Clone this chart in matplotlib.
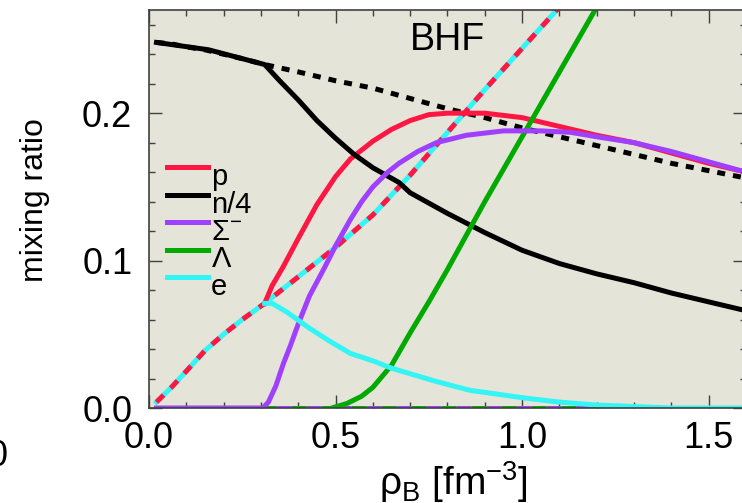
import numpy as np
import matplotlib
matplotlib.use("Agg")
import matplotlib.pyplot as plt
from matplotlib.ticker import MultipleLocator, FormatStrFormatter
from matplotlib.legend_handler import HandlerLine2D

plt.rcParams['font.family'] = ['Liberation Sans', 'DejaVu Sans']
plt.rcParams['mathtext.fontset'] = 'custom'
plt.rcParams['mathtext.rm'] = 'Liberation Sans'
plt.rcParams['mathtext.it'] = 'Liberation Sans:italic'

# --- data ---
# nucleonic matter (no hyperons): p = e, n/4
rho_nuc = [0.02, 0.06, 0.10, 0.15, 0.20, 0.25, 0.31, 0.40, 0.50, 0.60, 0.70,
           0.80, 0.90, 1.00, 1.10, 1.20, 1.30, 1.40, 1.50, 1.60]
pe_nuc = [0.004, 0.014, 0.025, 0.039, 0.050, 0.060, 0.071, 0.089, 0.109, 0.131,
          0.158, 0.187, 0.216, 0.244, 0.272, 0.300, np.nan, np.nan, np.nan, np.nan]
n4_nuc = [0.248, 0.247, 0.245, 0.243, 0.240, 0.237, 0.233, 0.228, 0.222, 0.217,
          0.210, 0.203, 0.197, 0.190, 0.184, 0.178, 0.172, 0.166, 0.161, 0.156]
zero_nuc = [0.0] * len(rho_nuc)

# hyperonic matter
rho_p = [0.31, 0.33, 0.36, 0.40, 0.45, 0.50, 0.54, 0.60, 0.65, 0.70, 0.75,
         0.80, 0.90, 1.00, 1.10, 1.20, 1.30, 1.40, 1.50, 1.60]
p_hyp = [0.071, 0.083, 0.096, 0.115, 0.138, 0.157, 0.169, 0.181, 0.189, 0.195,
         0.199, 0.200, 0.200, 0.197, 0.191, 0.185, 0.180, 0.173, 0.166, 0.160]

rho_n = [0.02, 0.16, 0.31, 0.35, 0.40, 0.45, 0.50, 0.55, 0.60, 0.67, 0.70,
         0.80, 0.90, 1.00, 1.10, 1.20, 1.30, 1.40, 1.50, 1.60]
n4_hyp = [0.248, 0.243, 0.233, 0.222, 0.209, 0.195, 0.183, 0.172, 0.163, 0.153,
          0.146, 0.132, 0.119, 0.107, 0.098, 0.091, 0.085, 0.078, 0.072, 0.066]

rho_sig = [0.02, 0.305, 0.32, 0.34, 0.36, 0.38, 0.40, 0.43, 0.47, 0.50, 0.54,
           0.57, 0.60, 0.64, 0.67, 0.72, 0.77, 0.85, 0.95, 1.05, 1.13, 1.20,
           1.30, 1.40, 1.50, 1.60]
sig_hyp = [0.0, 0.0, 0.004, 0.015, 0.030, 0.043, 0.057, 0.076, 0.095, 0.110,
           0.128, 0.140, 0.150, 0.160, 0.166, 0.174, 0.180, 0.185, 0.188, 0.188,
           0.187, 0.184, 0.180, 0.174, 0.167, 0.160]

rho_lam = [0.49, 0.53, 0.57, 0.60, 0.65, 0.70, 0.75, 0.80, 0.85, 0.90, 0.95,
           1.00, 1.05, 1.10, 1.15, 1.20]
lam_hyp = [0.0, 0.003, 0.008, 0.014, 0.029, 0.051, 0.072, 0.094, 0.117, 0.140,
           0.162, 0.184, 0.206, 0.228, 0.250, 0.272]

rho_e = [0.31, 0.33, 0.37, 0.425, 0.48, 0.54, 0.60, 0.65, 0.77, 0.86, 1.00,
         1.10, 1.20, 1.30, 1.40, 1.60]
e_hyp = [0.071, 0.071, 0.065, 0.055, 0.046, 0.037, 0.032, 0.027, 0.018, 0.012,
         0.007, 0.004, 0.002, 0.001, 0.0, 0.0]

labels = ['p', 'n/4', r'$\Sigma^{-}$', r'$\Lambda$', 'e']
c_p, c_n, c_sig, c_lam, c_e = '#ff1744', 'black', '#a040ff', '#00aa00', '#33f5f5'


class RaisedLine(HandlerLine2D):
    # legend sample sits a bit above the middle of its label
    def create_artists(self, legend, orig_handle, xdescent, ydescent,
                       width, height, fontsize, trans):
        return super().create_artists(legend, orig_handle, xdescent,
                                      ydescent - 11, width, height,
                                      fontsize, trans)


fig = plt.figure(figsize=(7.42, 5.03), dpi=100)
ax = fig.add_axes([149 / 742, 1 - 408 / 503, 597 / 742, 398 / 503])
ax.set_facecolor('#e5e4d8')

lw = 3.6
# nucleonic (dashed) curves
ax.plot(rho_nuc, zero_nuc, color=c_sig, lw=lw, ls=(0, (3, 3)))
ax.plot(rho_nuc, zero_nuc, color=c_lam, lw=lw, ls=(3, (3, 3)))
ax.plot(rho_nuc, n4_nuc, color=c_n, lw=lw, ls=(0, (1.6, 1.6)))
ax.plot(rho_nuc, pe_nuc, color=c_e, lw=lw)
ax.plot(rho_nuc, pe_nuc, color=c_p, lw=lw, ls=(0, (2, 2)))

# hyperonic (solid) curves
lp, = ax.plot(rho_p, p_hyp, color=c_p, lw=lw)
ln, = ax.plot(rho_n, n4_hyp, color=c_n, lw=lw)
ll, = ax.plot(rho_lam, lam_hyp, color=c_lam, lw=lw)
ls_, = ax.plot(rho_sig, sig_hyp, color=c_sig, lw=lw)
le, = ax.plot(rho_e, e_hyp, color=c_e, lw=lw)

ax.set_xlim(0, 1.6)
ax.set_ylim(0, 0.27)
ax.xaxis.set_major_locator(MultipleLocator(0.5))
ax.xaxis.set_minor_locator(MultipleLocator(0.1))
ax.yaxis.set_major_locator(MultipleLocator(0.1))
ax.yaxis.set_minor_locator(MultipleLocator(0.02))
ax.xaxis.set_major_formatter(FormatStrFormatter('%.1f'))
ax.yaxis.set_major_formatter(FormatStrFormatter('%.1f'))

for s in ax.spines.values():
    s.set_color('#404040')
    s.set_linewidth(1.2)
ax.tick_params(which='both', direction='in', top=True, right=True,
               color='#404040', width=1.0)
ax.tick_params(which='major', length=9.5, labelsize=26)
ax.tick_params(which='minor', length=4.5)
ax.tick_params(axis='x', which='major', pad=9)
ax.tick_params(axis='y', which='major', pad=12)

ax.set_ylabel('mixing ratio', fontsize=23)
ax.yaxis.set_label_coords(-0.165, 0.523)
ax.set_xlabel(r'$\mathrm{\rho_B}$ [fm$^{-3}$]', fontsize=28, va='top')
ax.xaxis.set_label_coords(0.51, -0.128)

ax.text(0.80, 0.2495, 'BHF', fontsize=27, ha='center', va='center')

ax.legend([lp, ln, ls_, ll, le], labels, loc='upper left',
          bbox_to_anchor=(0.030, 0.615), frameon=False, fontsize=21,
          handlelength=1.4, handletextpad=0.12, labelspacing=-0.02,
          borderpad=0, borderaxespad=0,
          handler_map={lp: RaisedLine(), ln: RaisedLine(), ls_: RaisedLine(),
                       ll: RaisedLine(), le: RaisedLine()})

# partial panel letter cut by the left edge
fig.text(8 / 742, 1 - 456 / 503, '0', fontsize=26, ha='right', va='center')

fig.savefig('out.png', dpi=100)
